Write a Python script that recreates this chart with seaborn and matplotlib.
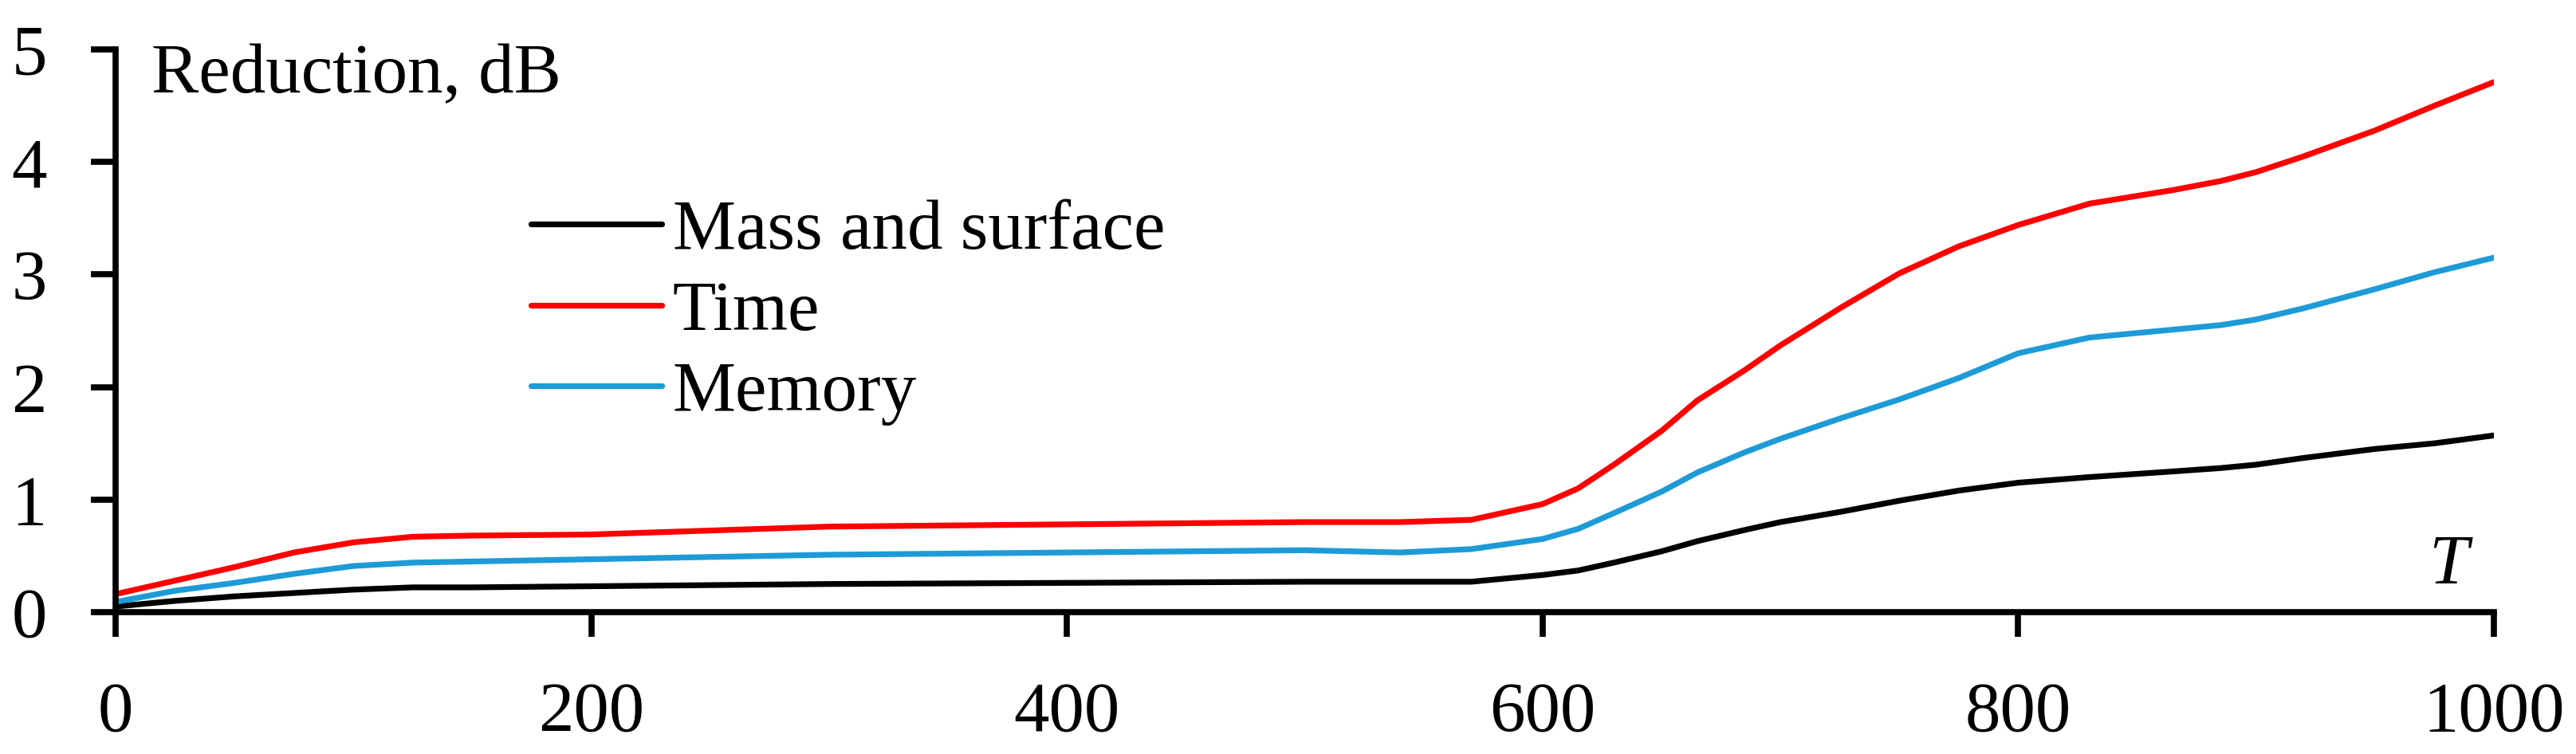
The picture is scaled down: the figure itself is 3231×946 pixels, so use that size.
import pandas as pd
import matplotlib
matplotlib.use("Agg")
import matplotlib.pyplot as plt
import seaborn as sns

# valores
T = [0, 25, 50, 75, 100, 125, 150, 200, 300, 400, 500, 540, 570, 600, 615,
     630, 650, 665, 685, 700, 725, 750, 775, 800, 830, 865, 885, 900, 920,
     950, 975, 1000]
mass_surface = [0.05, 0.10, 0.14, 0.17, 0.20, 0.22, 0.22, 0.23, 0.25, 0.26,
                0.27, 0.27, 0.27, 0.33, 0.37, 0.44, 0.54, 0.63, 0.73, 0.80,
                0.89, 0.99, 1.08, 1.15, 1.20, 1.25, 1.28, 1.31, 1.37, 1.45,
                1.50, 1.57]
time_red = [0.16, 0.28, 0.40, 0.53, 0.62, 0.67, 0.68, 0.69, 0.76, 0.78,
            0.80, 0.80, 0.82, 0.96, 1.10, 1.31, 1.61, 1.88, 2.15, 2.37,
            2.70, 3.01, 3.25, 3.44, 3.63, 3.75, 3.83, 3.91, 4.05, 4.28,
            4.50, 4.71]
memory = [0.09, 0.19, 0.26, 0.34, 0.41, 0.44, 0.45, 0.47, 0.51, 0.53,
          0.55, 0.53, 0.56, 0.65, 0.74, 0.88, 1.07, 1.24, 1.42, 1.54,
          1.72, 1.89, 2.08, 2.30, 2.44, 2.51, 2.55, 2.60, 2.70, 2.87,
          3.02, 3.15]

series = ['Mass and surface', 'Time', 'Memory']
colores = {'Mass and surface': '#000000', 'Time': '#FF0000', 'Memory': '#1E9BD7'}

df = pd.DataFrame({'T': T, 'Mass and surface': mass_surface,
                   'Time': time_red, 'Memory': memory})
df = df.melt(id_vars='T', var_name='Serie', value_name='Reduction')

sns.set_theme(style='ticks')
plt.rcParams['font.family'] = ['Liberation Serif', 'DejaVu Serif']
plt.rcParams['text.color'] = 'black'
plt.rcParams['xtick.color'] = 'black'
plt.rcParams['ytick.color'] = 'black'

fs = 64
fig = plt.figure(figsize=(32.31, 9.46), dpi=100)
ax = fig.add_axes([0.04488, 0.18816, 0.92324, 0.7463])

sns.lineplot(data=df, x='T', y='Reduction', hue='Serie', hue_order=series,
             palette=colores, linewidth=5.2, ax=ax)

ax.set_xlim(0, 1000)
ax.set_ylim(0, 5)
ax.set_xticks([0, 200, 400, 600, 800, 1000])
ax.set_yticks([0, 1, 2, 3, 4, 5])
ax.set_xlabel('')
ax.set_ylabel('')

for s in ['top', 'right']:
    ax.spines[s].set_visible(False)
for s in ['left', 'bottom']:
    ax.spines[s].set_linewidth(5.5)
    ax.spines[s].set_color('black')

ax.tick_params(axis='both', direction='out', length=22, width=5.5,
               bottom=True, left=True, color='black',
               labelsize=fs, labelcolor='black')
ax.tick_params(axis='y', pad=40)
ax.tick_params(axis='x', pad=40)

ax.text(15, 4.62, 'Reduction, dB', fontsize=fs, va='baseline', ha='left',
        color='black')
ax.text(981, 0.26, 'T', fontsize=fs, style='italic', va='baseline',
        ha='center', color='black')

leg = ax.legend(loc='center left', bbox_to_anchor=(666 / 3231, 1 - 392 / 946),
                bbox_transform=fig.transFigure, frameon=False, fontsize=fs,
                handlelength=1.85, handletextpad=0.15, labelspacing=0.23,
                borderpad=0, borderaxespad=0)
for h in leg.get_lines():
    h.set_linewidth(5.2)
for t in leg.get_texts():
    t.set_color('black')

fig.savefig('out.png', dpi=100)
